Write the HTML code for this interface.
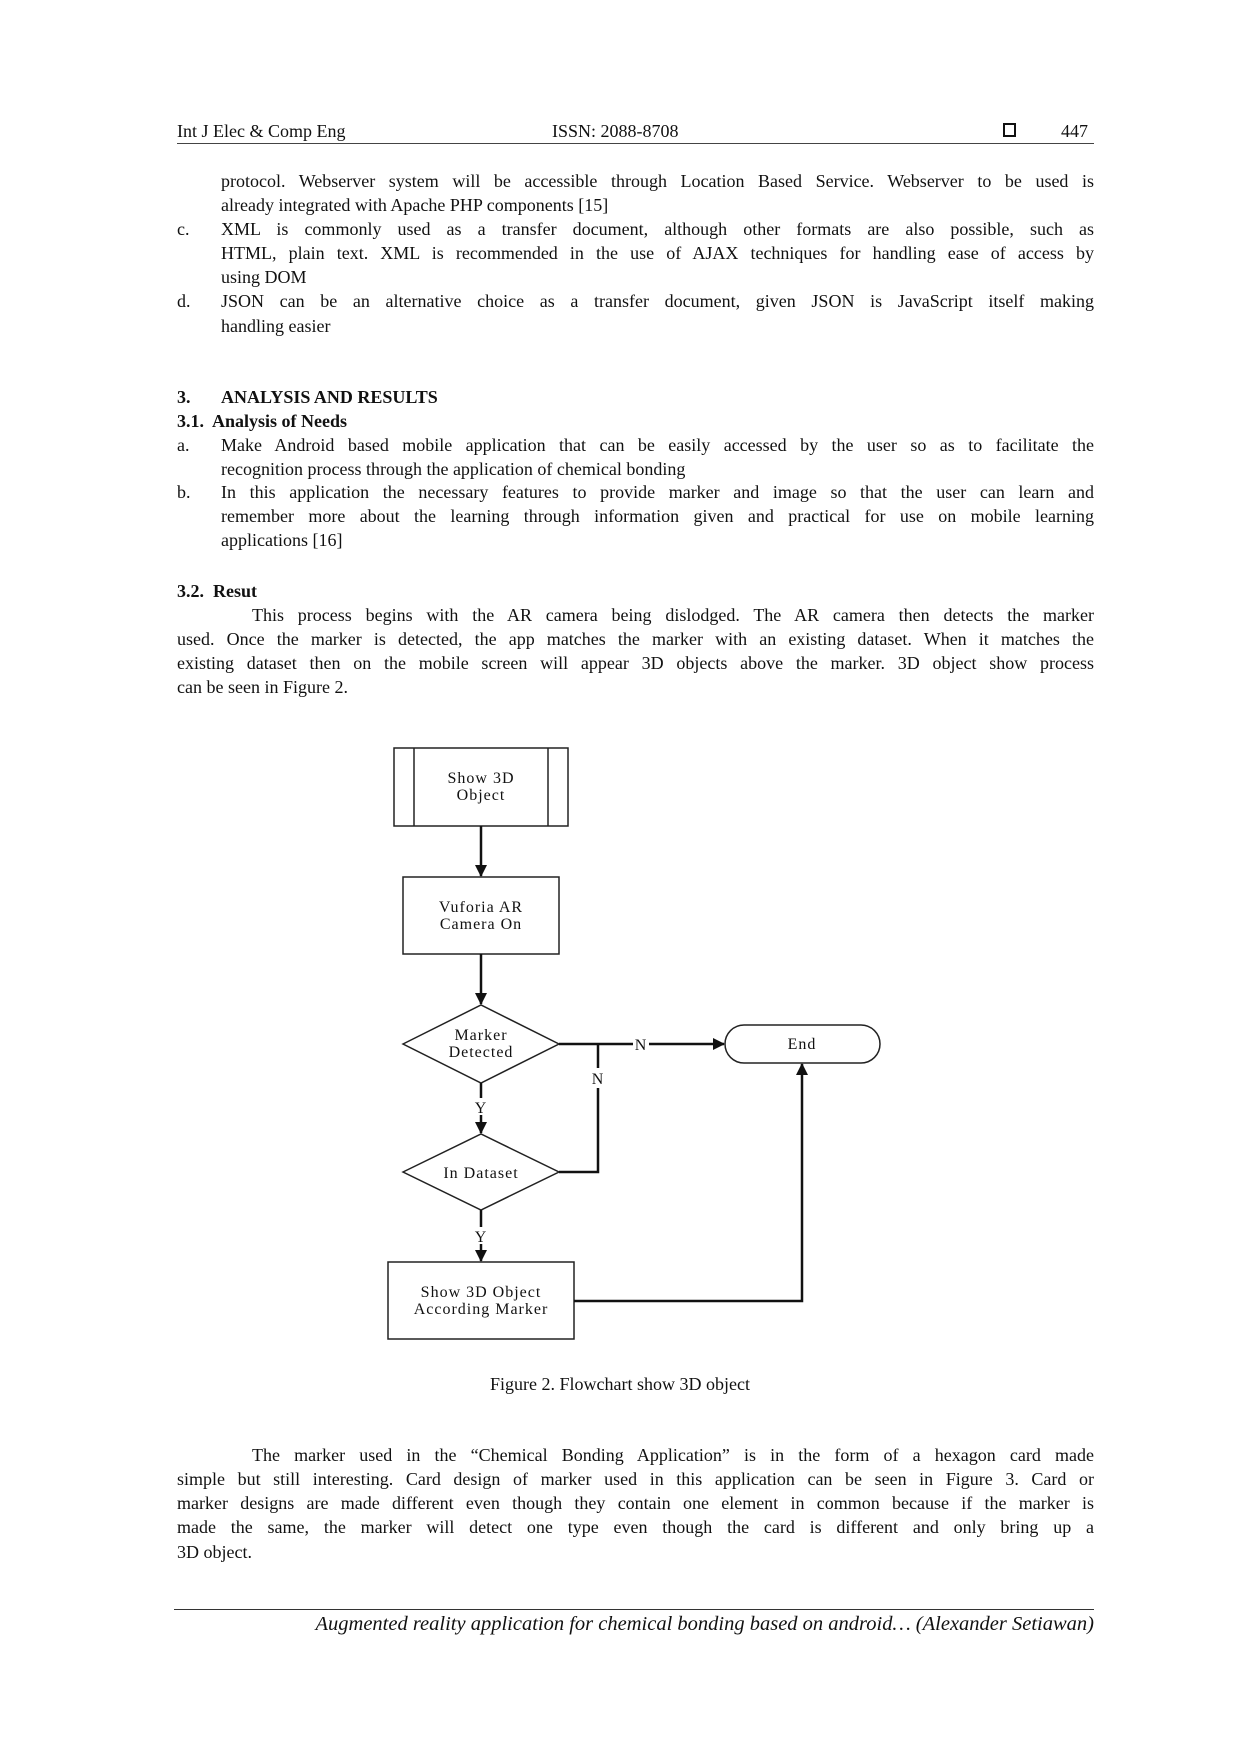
<!DOCTYPE html>
<html><head><meta charset="utf-8"><style>
body{margin:0;background:#fff}
#p{position:relative;width:1240px;height:1754px;overflow:hidden;font-family:"Liberation Serif",serif;color:#111;font-size:18px}
.l{position:absolute;height:24px;line-height:24px;white-space:nowrap}
.j{text-align:justify;text-align-last:justify;white-space:normal}
.b{font-weight:bold}
svg text{font-family:"Liberation Serif",serif;font-size:16px;letter-spacing:1px;fill:#111}
</style></head><body><div id="p">
<div class="l" style="left:177px;top:119px">Int J Elec &amp; Comp Eng</div>
<div class="l" style="left:552px;top:119px">ISSN: 2088-8708</div>
<div style="position:absolute;left:1003px;top:123px;width:9px;height:10px;border:2px solid #111"></div>
<div class="l" style="left:1061px;top:119px">447</div>
<div style="position:absolute;left:177px;top:143px;width:917px;height:1px;background:#444"></div>

<div class="l j" style="left:221px;top:169px;width:873px">protocol. Webserver system will be accessible through Location Based Service. Webserver to be used is</div>
<div class="l" style="left:221px;top:193px">already integrated with Apache PHP components [15]</div>
<div class="l" style="left:177px;top:217px">c.</div>
<div class="l j" style="left:221px;top:217px;width:873px">XML is commonly used as a transfer document, although other formats are also possible, such as</div>
<div class="l j" style="left:221px;top:241px;width:873px">HTML, plain text. XML is recommended in the use of AJAX techniques for handling ease of access by</div>
<div class="l" style="left:221px;top:265px">using DOM</div>
<div class="l" style="left:177px;top:289px">d.</div>
<div class="l j" style="left:221px;top:289px;width:873px">JSON can be an alternative choice as a transfer document, given JSON is JavaScript itself making</div>
<div class="l" style="left:221px;top:314px">handling easier</div>

<div class="l b" style="left:177px;top:385px">3.</div>
<div class="l b" style="left:221px;top:385px">ANALYSIS AND RESULTS</div>
<div class="l b" style="left:177px;top:409px">3.1.&nbsp; Analysis of Needs</div>
<div class="l" style="left:177px;top:433px">a.</div>
<div class="l j" style="left:221px;top:433px;width:873px">Make Android based mobile application that can be easily accessed by the user so as to facilitate the</div>
<div class="l" style="left:221px;top:457px">recognition process through the application of chemical bonding</div>
<div class="l" style="left:177px;top:480px">b.</div>
<div class="l j" style="left:221px;top:480px;width:873px">In this application the necessary features to provide marker and image so that the user can learn and</div>
<div class="l j" style="left:221px;top:504px;width:873px">remember more about the learning through information given and practical for use on mobile learning</div>
<div class="l" style="left:221px;top:528px">applications [16]</div>

<div class="l b" style="left:177px;top:579px">3.2.&nbsp; Resut</div>
<div class="l j" style="left:252px;top:603px;width:842px">This process begins with the AR camera being dislodged. The AR camera then detects the marker</div>
<div class="l j" style="left:177px;top:627px;width:917px">used. Once the marker is detected, the app matches the marker with an existing dataset. When it matches the</div>
<div class="l j" style="left:177px;top:651px;width:917px">existing dataset then on the mobile screen will appear 3D objects above the marker. 3D object show process</div>
<div class="l" style="left:177px;top:675px">can be seen in Figure 2.</div>

<svg style="position:absolute;left:0;top:0" width="1240" height="1754">
<defs><marker id="a" markerWidth="12" markerHeight="12" refX="11" refY="6" orient="auto" markerUnits="userSpaceOnUse"><path d="M0,0 L12,6 L0,12 z" fill="#111"/></marker></defs>
<g stroke="#222" stroke-width="1.5" fill="none">
<rect x="394" y="748" width="174" height="78"/>
<line x1="414" y1="748" x2="414" y2="826"/><line x1="548" y1="748" x2="548" y2="826"/>
<rect x="403" y="877" width="156" height="77"/>
<polygon points="403,1044 481,1005 559,1044 481,1083"/>
<polygon points="403,1172 481,1134 559,1172 481,1210"/>
<rect x="725" y="1025" width="155" height="38" rx="19"/>
<rect x="388" y="1262" width="186" height="77"/>
</g>
<g stroke="#111" stroke-width="2.5" fill="none">
<line x1="481" y1="826" x2="481" y2="876" marker-end="url(#a)"/>
<line x1="481" y1="954" x2="481" y2="1004" marker-end="url(#a)"/>
<line x1="481" y1="1083" x2="481" y2="1098"/>
<line x1="481" y1="1115" x2="481" y2="1133" marker-end="url(#a)"/>
<line x1="481" y1="1210" x2="481" y2="1227"/>
<line x1="481" y1="1244" x2="481" y2="1261" marker-end="url(#a)"/>
<line x1="559" y1="1044" x2="724" y2="1044" marker-end="url(#a)"/>
<polyline points="559,1172 598,1172 598,1088"/>
<line x1="598" y1="1044" x2="598" y2="1068"/>
<polyline points="574,1301 802,1301 802,1064" marker-end="url(#a)"/>
</g>
<rect x="633" y="1036" width="16" height="15" fill="#fff"/>
<text x="641" y="1050" text-anchor="middle">N</text>
<text x="598" y="1084" text-anchor="middle">N</text>
<text x="481" y="1113" text-anchor="middle">Y</text>
<text x="481" y="1242" text-anchor="middle">Y</text>
<text x="481" y="783" text-anchor="middle">Show 3D</text>
<text x="481" y="800" text-anchor="middle">Object</text>
<text x="481" y="912" text-anchor="middle">Vuforia AR</text>
<text x="481" y="929" text-anchor="middle">Camera On</text>
<text x="481" y="1040" text-anchor="middle">Marker</text>
<text x="481" y="1057" text-anchor="middle">Detected</text>
<text x="481" y="1178" text-anchor="middle">In Dataset</text>
<text x="802" y="1049" text-anchor="middle">End</text>
<text x="481" y="1297" text-anchor="middle">Show 3D Object</text>
<text x="481" y="1314" text-anchor="middle">According Marker</text>
</svg>

<div class="l" style="left:0;width:1240px;text-align:center;top:1372px">Figure 2. Flowchart show 3D object</div>

<div class="l j" style="left:252px;top:1443px;width:842px">The marker used in the “Chemical Bonding Application” is in the form of a hexagon card made</div>
<div class="l j" style="left:177px;top:1467px;width:917px">simple but still interesting. Card design of marker used in this application can be seen in Figure 3. Card or</div>
<div class="l j" style="left:177px;top:1491px;width:917px">marker designs are made different even though they contain one element in common because if the marker is</div>
<div class="l j" style="left:177px;top:1515px;width:917px">made the same, the marker will detect one type even though the card is different and only bring up a</div>
<div class="l" style="left:177px;top:1540px">3D object.</div>

<div style="position:absolute;left:174px;top:1609px;width:920px;height:1px;background:#333"></div>
<div class="l" style="right:146px;top:1612px;font-style:italic;font-size:20.5px">Augmented reality application for chemical bonding based on android… (Alexander Setiawan)</div>
</div></body></html>
